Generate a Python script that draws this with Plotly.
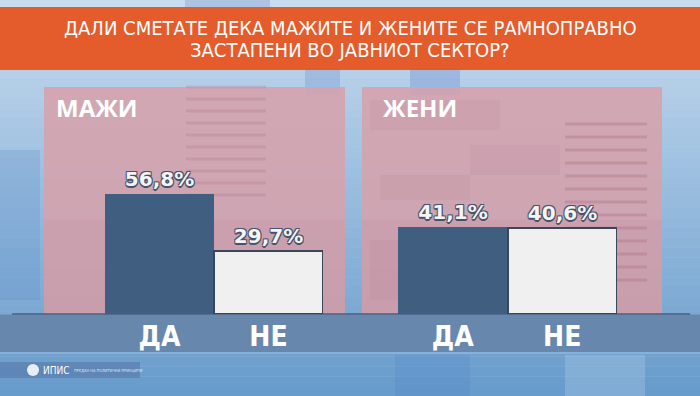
import plotly.graph_objects as go

# ---- data ----
categories = ["ДА", "НЕ"]
men_values = [56.8, 29.7]
women_values = [41.1, 40.6]
men_labels = ["56,8%", "29,7%"]
women_labels = ["41,1%", "40,6%"]
panel_titles = ["МАЖИ", "ЖЕНИ"]
title_lines = ["ДАЛИ СМЕТАТЕ ДЕКА МАЖИТЕ И ЖЕНИТЕ СЕ РАМНОПРАВНО", "ЗАСТАПЕНИ ВО ЈАВНИОТ СЕКТОР?"]

W, H = 700, 396
def px(x):
    return x / W
def py(y):
    return 1 - y / H

DA_COLOR = "#405e80"
NE_COLOR = "#f0f0f0"
EDGE = "#3a475a"

fig = go.Figure()

for vals, labels, xa in [(men_values, men_labels, "x"), (women_values, women_labels, "x2")]:
    fig.add_trace(go.Bar(
        x=categories, y=vals, text=labels, textposition="outside",
        cliponaxis=False,
        marker=dict(color=[DA_COLOR, NE_COLOR], line=dict(color=[DA_COLOR, EDGE], width=[0, 2])),
        textfont=dict(family="DejaVu Sans", size=20, color="#f4f4f4",
                      weight="bold",
                      shadow="-1px -1px 0 #46526a, 1px -1px 0 #46526a, -1px 1px 0 #46526a, 1px 1px 0 #46526a, 0 2px 0 #46526a"),
        xaxis=xa, yaxis="y", showlegend=False, hoverinfo="skip",
    ))

shapes = []
# background gradient (stacked horizontal stripes)
top = (200, 220, 240)
bot = (104, 156, 204)
n = 40
for i in range(n):
    t = i / (n - 1)
    c = tuple(int(top[k] + (bot[k] - top[k]) * t) for k in range(3))
    shapes.append(dict(type="rect", xref="paper", yref="paper", x0=0, x1=1,
                       y0=1 - (i + 1) / n, y1=1 - i / n,
                       fillcolor="rgb(%d,%d,%d)" % c, line=dict(width=0), layer="below"))
# faint decorative blocks
deco = [(185, 0, 270, 7, "rgba(120,150,200,0.35)"), (305, 70, 340, 95, "rgba(120,150,210,0.35)"),
        (410, 70, 460, 95, "rgba(110,140,210,0.35)"), (0, 150, 40, 300, "rgba(90,140,200,0.25)"),
        (395, 355, 470, 396, "rgba(80,130,200,0.25)"), (565, 355, 645, 396, "rgba(200,220,240,0.25)")]
for x0, y0, x1, y1, c in deco:
    shapes.append(dict(type="rect", xref="paper", yref="paper", x0=px(x0), x1=px(x1), y0=py(y1), y1=py(y0),
                       fillcolor=c, line=dict(width=0), layer="below"))
# pink panels
for x0, x1 in [(44, 345), (362, 662)]:
    shapes.append(dict(type="rect", xref="paper", yref="paper", x0=px(x0), x1=px(x1), y0=py(314), y1=py(87),
                       fillcolor="rgba(214,162,172,0.88)", line=dict(width=0), layer="below"))
    shapes.append(dict(type="rect", xref="paper", yref="paper", x0=px(x0), x1=px(x1), y0=py(314), y1=py(220),
                       fillcolor="rgba(180,120,145,0.12)", line=dict(width=0), layer="below"))
# faint inner blocks in right panel
for x0, y0, x1, y1 in [(370, 100, 500, 130), (470, 145, 560, 175), (380, 175, 470, 200), (370, 240, 470, 300)]:
    shapes.append(dict(type="rect", xref="paper", yref="paper", x0=px(x0), x1=px(x1), y0=py(y1), y1=py(y0),
                       fillcolor="rgba(180,120,140,0.12)", line=dict(width=0), layer="below"))
# faint text lines
for k in range(13):
    y = 124 + k * 13
    shapes.append(dict(type="line", xref="paper", yref="paper", x0=px(565), x1=px(647), y0=py(y), y1=py(y),
                       line=dict(color="rgba(170,110,130,0.35)", width=3), layer="below"))
for k in range(10):
    y = 87 + k * 12
    shapes.append(dict(type="line", xref="paper", yref="paper", x0=px(186), x1=px(266), y0=py(y), y1=py(y),
                       line=dict(color="rgba(170,110,130,0.25)", width=3), layer="below"))
# orange banner
shapes.append(dict(type="rect", xref="paper", yref="paper", x0=0, x1=1, y0=py(70), y1=py(7),
                   fillcolor="#e45c2b", line=dict(width=0), layer="below"))
# bottom band
shapes.append(dict(type="rect", xref="paper", yref="paper", x0=0, x1=1, y0=py(352), y1=py(314.5),
                   fillcolor="#6887ad", line=dict(width=0), layer="below"))
shapes.append(dict(type="line", xref="paper", yref="paper", x0=px(12), x1=px(690), y0=py(314), y1=py(314),
                   line=dict(color="#4a5f7e", width=1.5), layer="below"))
shapes.append(dict(type="line", xref="paper", yref="paper", x0=0, x1=1, y0=py(353), y1=py(353),
                   line=dict(color="rgba(150,185,225,0.8)", width=1.5), layer="below"))
# logo strip
shapes.append(dict(type="rect", xref="paper", yref="paper", x0=0, x1=px(140), y0=py(378), y1=py(362),
                   fillcolor="rgba(80,110,160,0.5)", line=dict(width=0), layer="below"))
shapes.append(dict(type="circle", xref="paper", yref="paper", x0=px(27), x1=px(39), y0=py(376), y1=py(364),
                   fillcolor="#e8eef6", line=dict(width=0), layer="below"))

annotations = []
for i, line in enumerate(title_lines):
    annotations.append(dict(text=line, xref="paper", yref="paper", x=0.5, y=py(28 + i * 22),
                            showarrow=False, xanchor="center", yanchor="middle",
                            font=dict(family="Liberation Sans Narrow, DejaVu Sans Condensed", size=20, color="white")))
for title, x in zip(panel_titles, [54, 381]):
    annotations.append(dict(text="<b>%s</b>" % title, xref="paper", yref="paper", x=px(x), y=py(108),
                            showarrow=False, xanchor="left", yanchor="middle",
                            font=dict(family="Open Sans", size=24, color="white")))
annotations.append(dict(text="ИПИС", xref="paper", yref="paper", x=px(41), y=py(370), showarrow=False,
                        xanchor="left", yanchor="middle", font=dict(family="DejaVu Sans Condensed", size=10, color="white")))
annotations.append(dict(text="ПРЕДАН НА ПОЛИТИЧКИ ПРИНЦИПИ", xref="paper", yref="paper", x=px(72), y=py(370), showarrow=False,
                        xanchor="left", yanchor="middle", font=dict(family="DejaVu Sans Condensed", size=4, color="rgba(255,255,255,0.8)")))

ymax = 56.8 * 314 / 120
common_x = dict(range=[-0.5, 1.5], showgrid=False, zeroline=False, showline=False,
                tickfont=dict(family="Liberation Sans Narrow, DejaVu Sans Condensed", size=28, color="white", weight="bold"),
                ticks="", ticklabelstandoff=3, fixedrange=True)
fig.update_layout(
    width=W, height=H, margin=dict(l=0, r=0, t=0, b=0),
    paper_bgcolor="#9cbfe3", plot_bgcolor="rgba(0,0,0,0)",
    bargap=0, shapes=shapes, annotations=annotations,
    xaxis=dict(domain=[px(105), px(323)], anchor="y", **common_x),
    xaxis2=dict(domain=[px(398), px(617)], anchor="y", **common_x),
    yaxis=dict(domain=[py(314), 1], range=[0, ymax], visible=False, fixedrange=True),
)
fig.write_html("out.html", config={"displayModeBar": False},
               post_script="document.body.style.margin='0';document.body.style.overflow='hidden';")
